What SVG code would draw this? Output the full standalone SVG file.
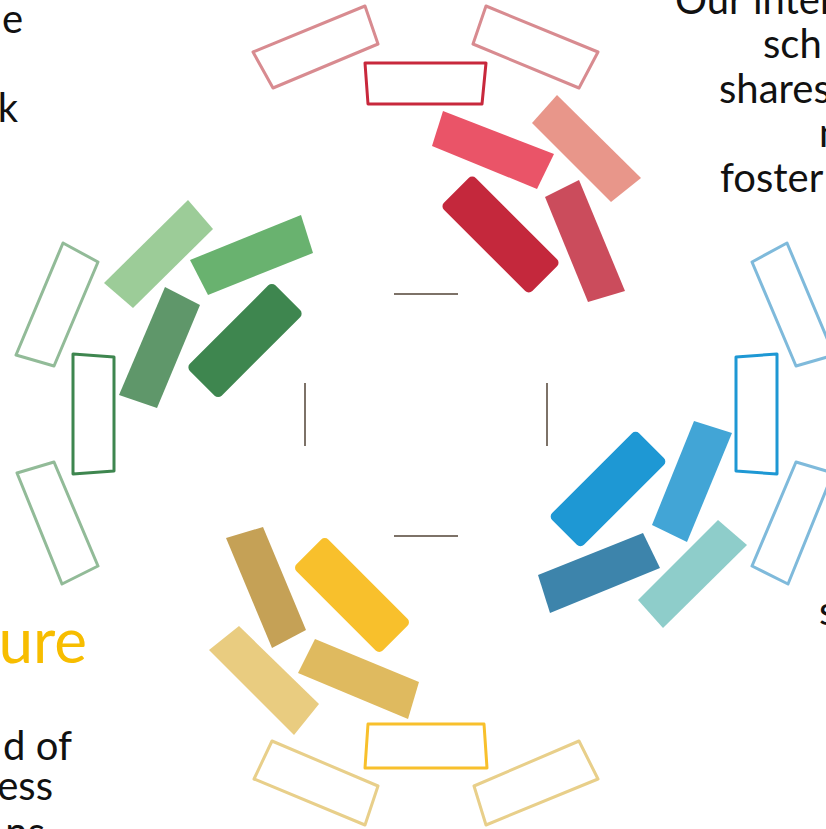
<svg xmlns="http://www.w3.org/2000/svg" width="826" height="829" viewBox="0 0 826 829">
<style>
.txt{font-family:Lato,"Open Sans","DejaVu Sans",sans-serif;font-size:40px;fill:#111}
.big{font-family:Lato,"Open Sans","DejaVu Sans",sans-serif;font-size:62px;fill:#f7bd00}
.ol{fill:none;stroke-width:3;stroke-linejoin:round}
.ln{stroke:#7d7268;stroke-width:2;fill:none}
</style>
<rect width="826" height="829" fill="#ffffff"/>
<g id="text">
<text class="txt" x="23" y="33" text-anchor="end">e</text>
<text class="txt" x="18" y="122" text-anchor="end">k</text>
<text class="txt" x="675" y="14">Our inter</text>
<text class="txt" x="763" y="58">sch</text>
<text class="txt" x="719" y="103">shares</text>
<text class="txt" x="819" y="147">n</text>
<text class="txt" x="720" y="192">foster</text>
<text class="txt" x="819" y="625">s</text>
<text class="big" x="87" y="663" text-anchor="end">ure</text>
<text class="txt" x="72" y="760" text-anchor="end">d of</text>
<text class="txt" x="53" y="800" text-anchor="end">ess</text>
<text class="txt" x="45" y="846" text-anchor="end">ns</text>
</g>
<g id="connectors">
<line class="ln" x1="394" y1="294" x2="458" y2="294"/>
<line class="ln" x1="394" y1="536" x2="458" y2="536"/>
<line class="ln" x1="305" y1="383" x2="305" y2="446"/>
<line class="ln" x1="547" y1="383" x2="547" y2="446"/>
</g>
<g id="red">
<polygon id="red-out-left" class="ol" stroke="#d88b90" points="253,52 365,6 378,44 273,88"/>
<polygon id="red-out-right" class="ol" stroke="#d88b90" points="486,6 598,52 579,88 473,44"/>
<polygon id="red-trap" class="ol" stroke="#c8283c" points="365,63 486,63 482,104 368,104"/>
<polygon id="red-pink" fill="#ea5468" points="443,111 554,154 537,189 432,146"/>
<polygon id="red-salmon" fill="#e8968a" points="557,95 641,178 611,202 532,123"/>
<rect id="red-dark" x="438" y="212" width="125" height="45" rx="5" fill="#c4283c" transform="rotate(45 500.5 234.5)"/>
<polygon id="red-rose" fill="#cb4c5c" points="579,180 625,291 588,302 545,197"/>
</g>
<g id="green">
<polygon id="green-out-top" class="ol" stroke="#92bb98" points="63,243 98,262 54,366 16,355"/>
<polygon id="green-trap" class="ol" stroke="#3e864f" points="73,354 114,357 114,471 73,474"/>
<polygon id="green-out-bottom" class="ol" stroke="#92bb98" points="17,473 54,462 98,566 62,584"/>
<polygon id="green-light" fill="#9ccc98" points="188,200 213,229 133,308 104,283"/>
<polygon id="green-mid" fill="#69b26f" points="190,260 301,215 313,253 208,295"/>
<polygon id="green-grey" fill="#5f976a" points="165,287 200,305 157,408 119,395"/>
<rect id="green-dark" x="184.5" y="318" width="121" height="45" rx="5" fill="#3e864f" transform="rotate(-45 245 340.5)"/>
</g>
<g id="blue">
<polygon id="blue-out-top" class="ol" stroke="#7fbadb" points="787,243 834,355 796,366 752,262"/>
<polygon id="blue-trap" class="ol" stroke="#1e98d4" points="777,354 736,357 736,471 777,474"/>
<polygon id="blue-out-bottom" class="ol" stroke="#7fbadb" points="833,473 796,462 752,566 788,584"/>
<rect id="blue-bright" x="546.5" y="466.5" width="123" height="45" rx="5" fill="#1e98d4" transform="rotate(-45 608 489)"/>
<polygon id="blue-light" fill="#42a5d6" points="694,421 732,433 687,542 652,525"/>
<polygon id="blue-steel" fill="#3d84ab" points="538,575 643,533 660,568 550,613"/>
<polygon id="blue-teal" fill="#8ecdca" points="718,520 747,545 663,628 638,600"/>
</g>
<g id="yellow">
<polygon id="yellow-trap" class="ol" stroke="#f8c02c" points="368,724 484,724 487,768 365,768"/>
<polygon id="yellow-out-left" class="ol" stroke="#e8cf8a" points="272,741 378,786 365,825 254,779"/>
<polygon id="yellow-out-right" class="ol" stroke="#e8cf8a" points="474,786 579,741 598,779 486,825"/>
<polygon id="yellow-tan" fill="#c5a156" points="226,538 263,527 306,630 272,648"/>
<rect id="yellow-gold" x="291" y="572.5" width="122" height="45" rx="5" fill="#f8c02c" transform="rotate(45 352 595)"/>
<polygon id="yellow-light" fill="#e9cc80" points="239,626 319,704 294,735 209,650"/>
<polygon id="yellow-mustard" fill="#dfba5f" points="315,639 419,682 408,719 298,673"/>
</g>
</svg>
